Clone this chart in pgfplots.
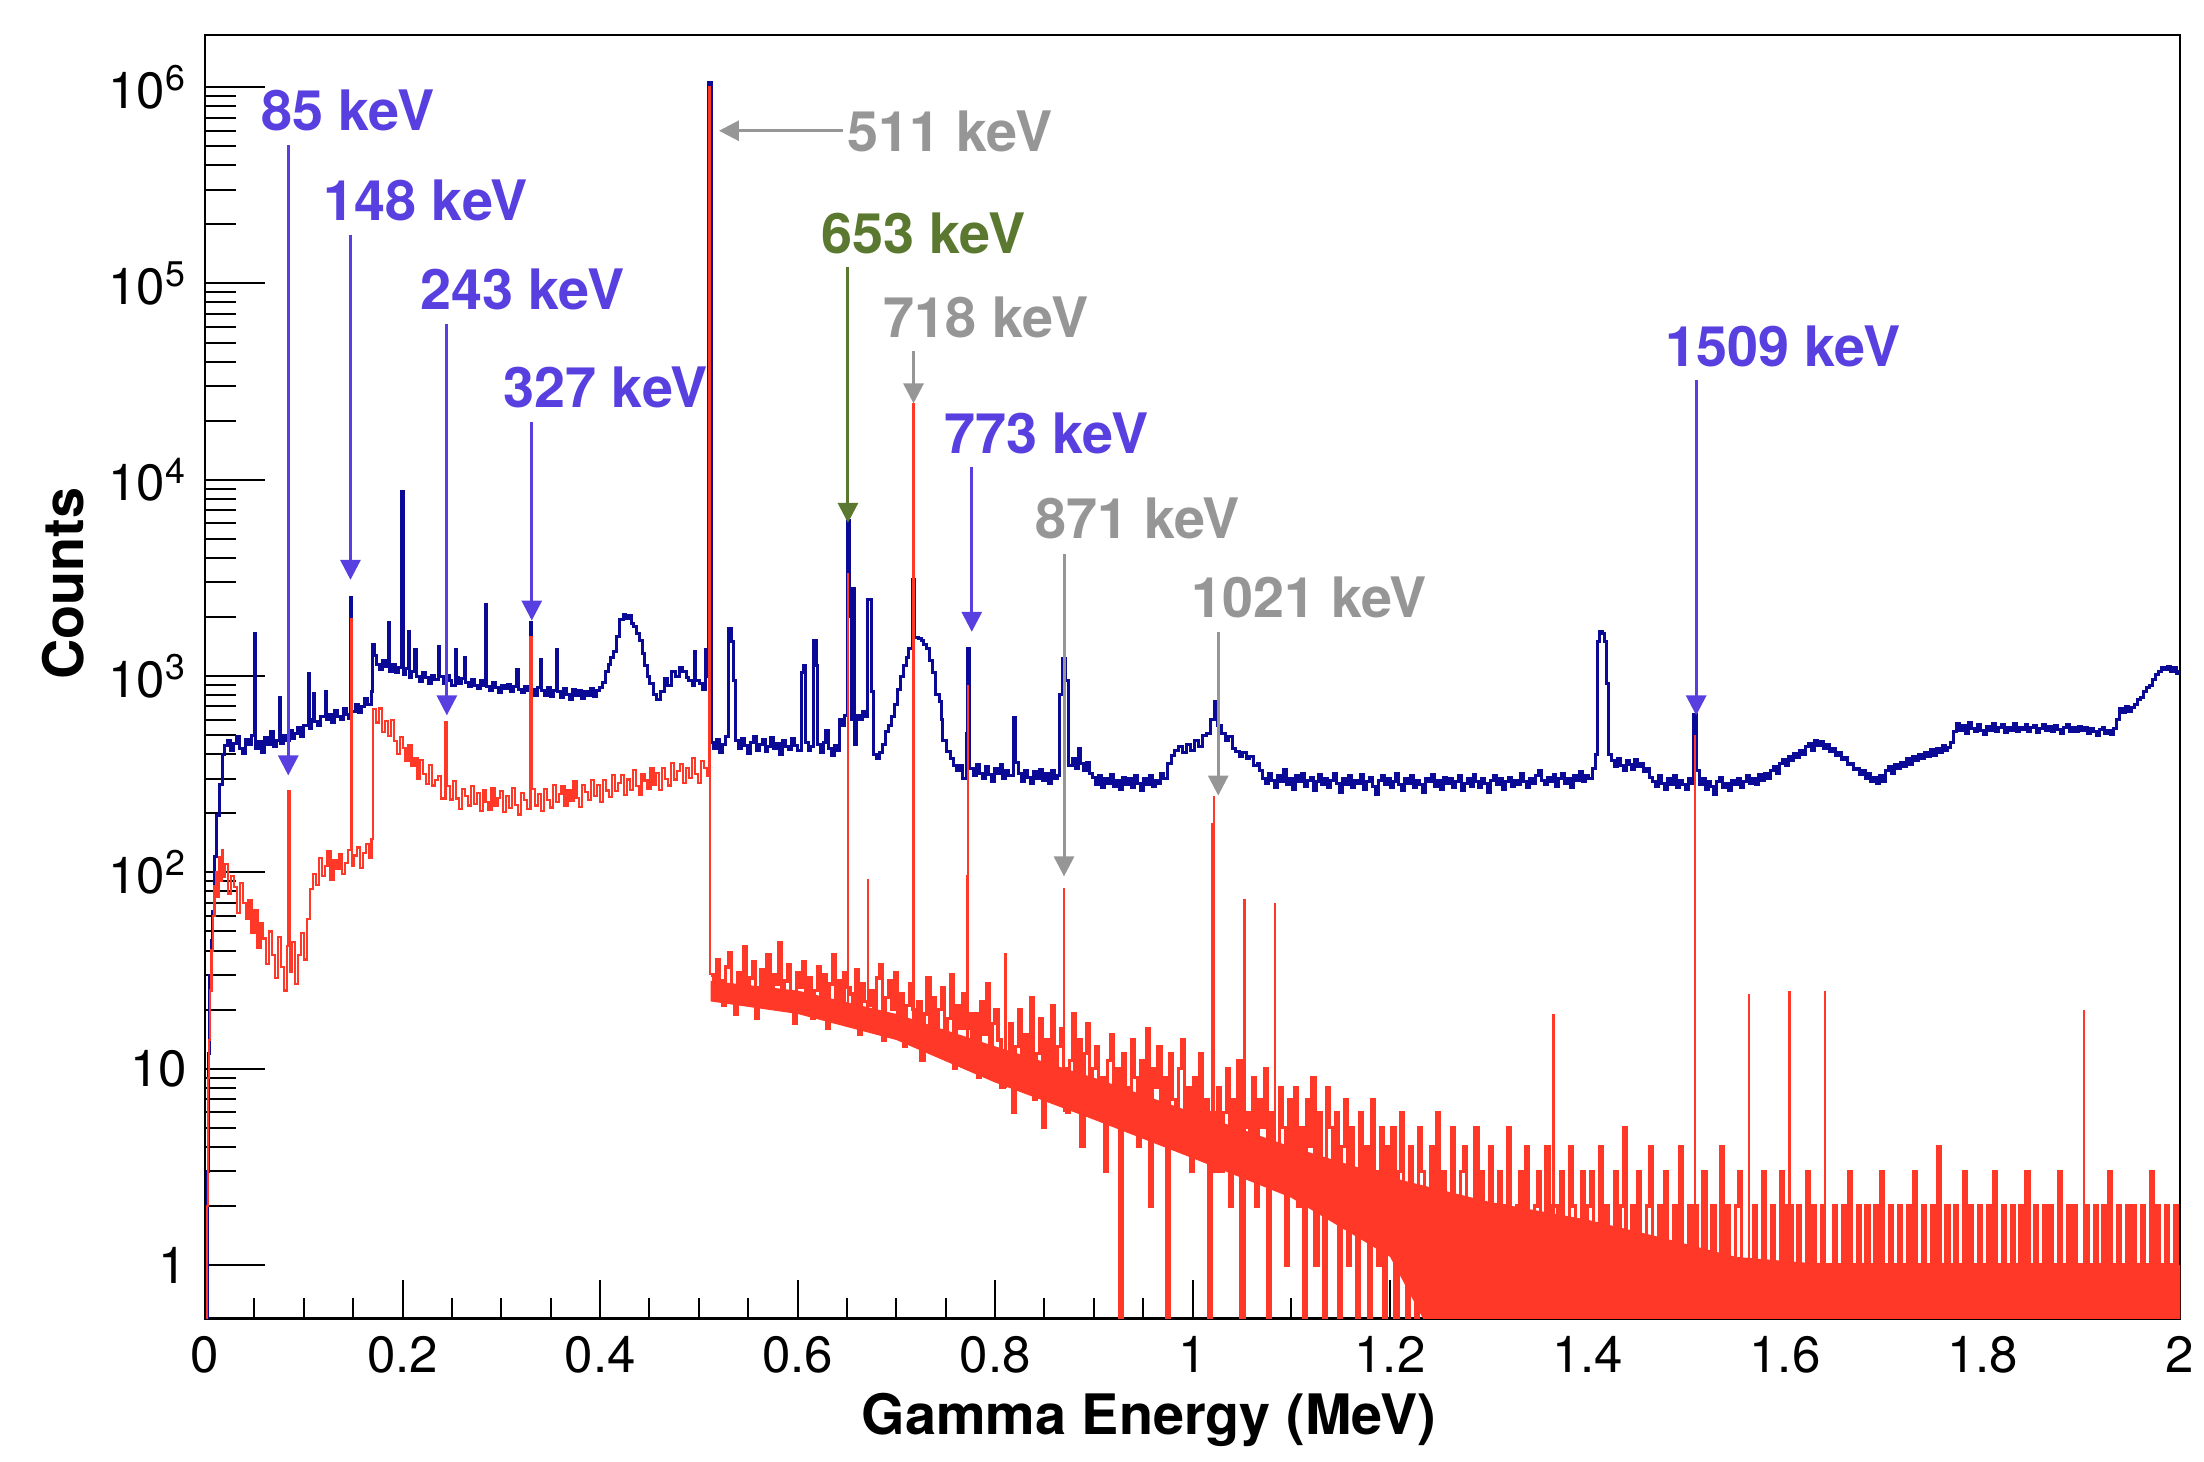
\documentclass[border=0pt]{standalone}
\usepackage{fontspec}
\setmainfont{TeX Gyre Heros}
\usepackage{pgfplots}
\pgfplotsset{compat=1.18}
\usetikzlibrary{arrows.meta}
\definecolor{navyh}{RGB}{10,10,150}
\definecolor{redh}{RGB}{255,56,40}
\definecolor{lblue}{RGB}{88,64,224}
\definecolor{lgray}{RGB}{150,150,150}
\definecolor{lgreen}{RGB}{90,120,48}
\begin{document}
\begin{tikzpicture}
\path[use as bounding box] (-51.3bp,-35.9bp) rectangle (499.9bp,329.7bp);
\begin{axis}[
  scale only axis, width=493.9bp, height=320.9bp,
  at={(0,0)}, anchor=south west,
  ymode=log, xmin=0, xmax=2, ymin=0.535, ymax=1.84e6,
  axis line style={line width=0.6bp},
  tick align=inside, tick pos=left,
  xtick={0,0.2,0.4,0.6,0.8,1,1.2,1.4,1.6,1.8,2},
  xticklabels={0,0.2,0.4,0.6,0.8,1,1.2,1.4,1.6,1.8,2},
  minor x tick num=3,
  ytick={1,10,100,1000,10000,100000,1000000},
  yticklabels={1,10,10\textsuperscript{2},10\textsuperscript{3},10\textsuperscript{4},10\textsuperscript{5},10\textsuperscript{6}},
  xtick style={line width=0.5bp,black,/pgfplots/major tick length=9.6bp,/pgfplots/minor tick length=5.2bp},
  ytick style={line width=0.5bp,black,/pgfplots/major tick length=15bp,/pgfplots/minor tick length=7.6bp},
  tick label style={font=\fontsize{12.8}{14}\selectfont},
  xticklabel style={yshift=-1bp},
  yticklabel style={xshift=-1bp},
  unbounded coords=jump,
]
% ---------------- blue (navy) spectrum ----------------
\addplot[const plot, navyh, line width=0.75bp] coordinates {
(0.000,0.3)(0.002,3)(0.003,12)(0.004,30)(0.006,45)(0.0076,63)(0.0094,120)(0.0119,195)(0.0148,280)(0.0174,400)
(0.020,445)(0.023,470)(0.026,420)(0.029,455)(0.032,490)(0.035,430)(0.038,405)(0.041,475)(0.044,450)(0.047,500)(0.0503,1650)(0.0515,430)(0.054,465)(0.057,410)(0.060,485)(0.063,450)(0.066,520)(0.069,440)(0.072,470)(0.0755,780)(0.0768,455)(0.079,500)(0.082,470)(0.085,530)(0.088,480)(0.091,510)(0.094,545)(0.097,490)(0.100,560)(0.1045,1030)(0.1057,540)(0.1080,600)(0.1100,815)(0.1112,590)(0.114,560)(0.117,620)(0.1215,830)(0.1227,600)(0.125,640)(0.128,580)(0.131,665)(0.134,620)(0.137,600)(0.140,680)(0.143,640)(0.145,610)(0.1475,2500)(0.1487,660)(0.152,720)(0.155,650)(0.158,700)(0.161,770)(0.164,720)(0.1685,830)
(0.170,1450)(0.1712,1280)(0.174,1150)(0.177,1080)(0.180,1200)(0.183,1120)(0.1855,1880)(0.1867,1060)(0.190,1150)(0.193,1040)(0.196,1100)(0.1990,8700)(0.2010,1020)(0.203,1090)(0.2055,1680)(0.2067,980)(0.209,1060)(0.2125,1360)(0.2137,1000)(0.217,940)(0.220,1040)(0.223,980)(0.226,920)(0.229,1010)(0.232,960)(0.2365,1420)(0.2377,990)(0.241,920)(0.244,1010)(0.247,950)(0.250,900)(0.2535,1360)(0.2547,980)(0.257,920)(0.260,970)(0.2625,1250)(0.2637,930)(0.267,880)(0.270,960)(0.273,900)(0.276,860)(0.279,950)(0.281,900)(0.2835,2320)(0.2847,880)(0.288,840)(0.291,930)(0.294,870)(0.297,820)(0.300,900)(0.303,860)(0.306,910)(0.309,830)(0.312,880)(0.3157,1080)(0.3169,850)(0.320,820)(0.323,890)(0.326,840)(0.3295,1870)(0.3307,850)(0.334,800)(0.337,870)(0.3395,1220)(0.3407,840)(0.344,800)(0.347,870)(0.350,790)(0.353,840)(0.3558,1360)(0.3570,830)(0.360,780)(0.363,860)(0.366,810)(0.369,760)(0.372,850)(0.375,800)(0.378,840)(0.381,770)(0.384,830)(0.387,800)(0.390,860)(0.393,790)(0.396,840)(0.399,870)(0.402,930)(0.405,1050)(0.408,1150)(0.411,1250)(0.414,1340)(0.417,1600)(0.420,1950)(0.4234,2070)(0.426,1960)(0.4289,2030)(0.432,1850)(0.4343,1790)(0.437,1650)(0.4397,1510)(0.4425,1300)(0.4451,1130)(0.448,1000)(0.4505,915)(0.454,807)(0.457,760)(0.461,830)(0.465,975)(0.468,900)(0.4722,1060)(0.476,990)(0.480,1100)(0.483,1050)(0.487,980)(0.490,955)(0.4935,900)(0.4957,1340)(0.4969,950)(0.501,915)(0.504,850)(0.5066,1360)(0.5078,1000)(0.5095,1.05e6)
(0.5125,460)(0.515,430)(0.518,475)(0.521,410)(0.524,450)(0.527,490)(0.530,1750)(0.533,1500)(0.5355,955)(0.5375,470)(0.540,430)(0.543,480)(0.546,445)(0.549,405)(0.552,460)(0.555,490)(0.558,420)(0.561,450)(0.564,475)(0.567,415)(0.570,440)(0.573,485)(0.576,430)(0.579,455)(0.582,400)(0.585,470)(0.588,440)(0.591,425)(0.594,480)(0.597,445)(0.600,420)(0.6035,1040)(0.606,1130)(0.6085,460)(0.611,420)(0.6135,440)(0.6163,1515)(0.6187,1130)(0.6205,450)(0.623,410)(0.626,460)(0.6278,530)(0.631,430)(0.634,395)(0.637,445)(0.640,420)(0.642,600)(0.645,560)(0.648,630)(0.6505,6200)(0.6525,2000)(0.6545,600)(0.656,2780)(0.6575,450)(0.660,630)(0.663,600)(0.666,660)(0.668,620)(0.6705,2450)(0.6745,830)(0.6766,400)(0.680,380)(0.683,410)(0.686,450)(0.6895,520)(0.692,560)(0.695,620)(0.698,720)(0.701,850)(0.7045,1000)(0.7073,1130)(0.710,1250)(0.7127,1390)(0.7165,3100)(0.7185,1580)(0.722,1550)(0.7254,1515)(0.728,1450)(0.7308,1390)(0.734,1200)(0.7362,1040)(0.7398,810)(0.7435,740)(0.7455,600)(0.747,468)(0.7507,414)(0.7545,380)(0.758,350)(0.761,330)(0.764,350)(0.767,300)(0.771,510)(0.7725,1390)(0.7745,340)(0.778,310)(0.781,355)(0.784,320)(0.787,300)(0.790,345)(0.793,315)(0.796,290)(0.799,340)(0.802,320)(0.805,355)(0.808,300)(0.811,330)(0.814,310)(0.8185,615)(0.8205,365)(0.824,320)(0.827,290)(0.830,330)(0.833,305)(0.836,285)(0.839,325)(0.842,300)(0.845,335)(0.848,295)(0.851,320)(0.854,285)(0.857,330)(0.860,300)(0.863,310)(0.8655,807)(0.8685,1230)(0.8715,955)(0.8745,350)(0.878,380)(0.881,340)(0.8845,430)(0.887,360)(0.890,330)(0.893,365)(0.896,320)(0.899,305)(0.902,280)(0.905,310)(0.908,270)(0.911,300)(0.914,285)(0.917,315)(0.920,275)(0.923,295)(0.926,265)(0.929,305)(0.932,280)(0.935,300)(0.938,270)(0.941,310)(0.944,285)(0.947,260)(0.950,300)(0.953,280)(0.956,310)(0.959,275)(0.962,295)(0.965,285)(0.968,320)(0.971,300)(0.975,360)(0.9785,396)(0.982,420)(0.986,440)(0.990,410)(0.994,450)(0.998,420)(1.002,470)(1.006,440)(1.010,500)(1.0146,510)(1.0185,600)(1.0219,740)(1.025,560)(1.029,510)(1.033,470)(1.0364,490)(1.040,430)(1.0436,414)(1.048,390)(1.051,410)(1.0544,380)(1.058,390)(1.062,350)(1.0653,360)
(1.068,330)(1.071,300)(1.074,285)(1.077,320)(1.080,295)(1.083,270)(1.086,310)(1.089,290)(1.092,335)(1.095,280)(1.098,300)(1.101,265)(1.104,310)(1.107,290)(1.110,320)(1.113,275)(1.116,295)(1.119,305)(1.122,260)(1.125,290)(1.128,315)(1.131,280)(1.134,300)(1.137,270)(1.140,295)(1.143,320)(1.146,285)(1.149,255)(1.152,300)(1.155,280)(1.158,310)(1.161,270)(1.164,295)(1.167,285)(1.170,315)(1.173,265)(1.176,290)(1.179,305)(1.182,275)(1.185,250)(1.188,295)(1.191,310)(1.194,280)(1.197,300)(1.200,270)(1.203,290)(1.206,320)(1.209,280)(1.212,260)(1.215,300)(1.218,285)(1.221,310)(1.224,270)(1.227,295)(1.230,280)(1.233,255)(1.236,300)(1.239,290)(1.242,315)(1.245,275)(1.248,295)(1.251,265)(1.254,305)(1.257,285)(1.260,300)(1.263,270)(1.266,290)(1.269,310)(1.272,260)(1.275,285)(1.278,300)(1.281,275)(1.284,315)(1.287,290)(1.290,270)(1.293,300)(1.296,285)(1.299,255)(1.302,295)(1.305,310)(1.308,280)(1.311,300)(1.314,265)(1.317,290)(1.320,305)(1.323,275)(1.326,295)(1.329,280)(1.332,320)(1.335,290)(1.338,270)(1.341,300)(1.344,285)(1.347,310)(1.350,330)(1.353,295)(1.356,280)(1.359,305)(1.362,290)(1.365,315)(1.368,275)(1.371,300)(1.374,320)(1.377,285)(1.380,300)(1.383,270)(1.386,310)(1.389,295)(1.392,325)(1.395,290)(1.398,310)(1.401,300)(1.405,340)(1.408,400)(1.410,1500)(1.4125,1686)(1.415,1650)(1.417,1500)(1.419,920)(1.421,400)(1.424,370)
(1.427,345)(1.430,380)(1.433,350)(1.436,330)(1.439,370)(1.442,355)(1.445,335)(1.448,375)(1.451,345)(1.454,360)(1.457,325)(1.460,340)(1.463,305)(1.466,290)(1.469,275)(1.472,310)(1.475,285)(1.478,265)(1.481,300)(1.484,280)(1.487,310)(1.490,270)(1.493,295)(1.496,280)(1.499,265)(1.502,300)(1.505,285)(1.5075,640)(1.5105,330)(1.513,280)(1.516,300)(1.519,265)(1.522,290)(1.525,275)(1.528,250)(1.531,290)(1.534,305)(1.537,270)(1.540,285)(1.543,260)(1.546,295)(1.549,280)(1.552,300)(1.555,270)(1.558,290)(1.561,310)(1.564,285)(1.567,300)(1.570,280)(1.573,315)(1.576,295)(1.579,320)(1.582,300)(1.585,330)(1.588,345)(1.591,320)(1.594,360)(1.597,375)(1.600,350)(1.603,390)(1.606,370)(1.609,405)(1.612,385)(1.615,420)(1.618,400)(1.621,440)(1.624,455)(1.627,420)(1.630,470)(1.633,445)(1.636,465)(1.639,430)(1.642,450)(1.645,415)(1.648,430)(1.651,395)(1.654,410)(1.657,375)(1.660,385)(1.663,355)(1.666,360)(1.669,335)(1.672,340)(1.675,315)(1.678,330)(1.681,300)(1.684,320)(1.687,290)(1.690,305)(1.693,285)(1.696,310)(1.699,290)(1.702,330)(1.705,345)(1.708,320)(1.711,355)(1.714,340)(1.717,365)(1.720,345)(1.723,380)(1.726,355)(1.729,390)(1.732,370)(1.735,400)(1.738,380)(1.741,410)(1.744,390)(1.747,425)(1.750,395)(1.753,430)(1.756,410)(1.759,445)(1.762,420)(1.765,435)(1.768,460)(1.771,520)(1.774,575)(1.777,530)(1.780,560)(1.783,510)(1.786,580)(1.789,540)(1.792,520)(1.795,565)(1.798,530)(1.801,505)(1.804,555)(1.807,530)(1.810,575)(1.813,520)(1.816,545)(1.819,565)(1.822,515)(1.825,550)(1.828,530)(1.831,575)(1.834,525)(1.837,550)(1.840,535)(1.843,570)(1.846,520)(1.849,545)(1.852,560)(1.855,515)(1.858,540)(1.861,570)(1.864,530)(1.867,555)(1.870,520)(1.873,560)(1.876,535)(1.879,510)(1.882,550)(1.885,565)(1.888,525)(1.891,545)(1.894,520)(1.897,555)(1.900,530)(1.903,545)(1.906,510)(1.909,540)(1.912,525)(1.915,500)(1.918,535)(1.921,545)(1.924,510)(1.927,530)(1.930,505)(1.933,540)(1.936,600)(1.939,680)(1.942,650)(1.945,700)(1.948,660)(1.951,690)(1.954,720)(1.957,760)(1.960,780)(1.963,830)(1.966,870)(1.969,900)(1.972,960)(1.975,1020)(1.978,1060)(1.981,1110)(1.984,1080)(1.987,1120)(1.990,1060)(1.993,1100)(1.996,1030)(1.999,1060)(2.000,1050)
};
% ---------------- red spectrum: dense core above 511 keV ----------------
\addplot[fill=redh, draw=none] coordinates {
(0.512,28)(0.60,25)(0.70,19)(0.80,13)(0.90,9)(1.00,6)(1.10,4)(1.20,2.8)(1.30,2.1)(1.40,1.7)(1.47,1.4)(1.55,1.1)(1.65,1.0)(2.00,1.0)
(2.00,0.3)(1.26,0.3)(1.20,1.1)(1.10,2.2)(1.00,3.5)(0.90,5.5)(0.80,8.5)(0.70,14)(0.60,19)(0.512,22)
};
% ---------------- red spectrum below 511 keV ----------------
\addplot[const plot, redh, line width=0.55bp] coordinates {
(0.0000,0.3)(0.0012,0.3)(0.0022,2)(0.0030,9)(0.0040,14)(0.0050,25)(0.0065,40)(0.0080,60)(0.0095,85)(0.0110,100)(0.0125,75)(0.0140,120)(0.0155,90)(0.0170,130)(0.0185,95)
(0.020,110)(0.023,78)(0.026,96)(0.029,84)(0.032,62)(0.035,88)(0.038,70)(0.041,58)(0.044,72)(0.047,49)(0.050,64)(0.053,41)(0.056,55)(0.059,46)(0.062,34)(0.065,50)(0.068,38)(0.071,29)(0.074,47)(0.077,33)(0.080,25)(0.083,42)(0.0845,258)(0.0857,31)(0.088,44)(0.091,27)(0.094,38)(0.097,49)(0.100,36)(0.103,58)(0.106,82)(0.109,98)(0.112,86)(0.115,118)(0.118,96)(0.121,108)(0.124,128)(0.127,92)(0.130,115)(0.133,104)(0.136,124)(0.139,98)(0.142,112)(0.145,130)(0.1475,1950)(0.1487,108)(0.151,122)(0.154,134)(0.157,105)(0.160,126)(0.163,140)(0.166,118)(0.1685,148)
(0.170,680)(0.173,580)(0.176,683)(0.179,519)(0.182,593)(0.185,497)(0.188,597)(0.191,466)(0.194,400)(0.197,490)(0.200,430)(0.203,369)(0.206,447)(0.209,349)(0.212,384)(0.215,301)(0.218,375)(0.221,318)(0.224,283)(0.227,354)(0.230,277)(0.233,296)(0.236,311)(0.239,238)(0.2435,585)(0.2447,275)(0.248,235)(0.251,292)(0.254,238)(0.257,211)(0.260,267)(0.263,244)(0.266,219)(0.269,275)(0.272,223)(0.275,253)(0.278,205)(0.281,263)(0.284,229)(0.287,209)(0.290,269)(0.293,219)(0.296,240)(0.299,260)(0.302,204)(0.305,244)(0.308,213)(0.311,269)(0.314,220)(0.317,197)(0.320,253)(0.323,233)(0.326,210)(0.3295,1580)(0.3307,267)(0.334,219)(0.337,250)(0.340,205)(0.343,265)(0.346,233)(0.349,214)(0.352,278)(0.355,228)(0.358,251)(0.361,276)(0.364,217)(0.367,261)(0.370,230)(0.373,292)(0.376,240)(0.379,216)(0.382,279)(0.385,257)(0.388,233)(0.391,296)(0.394,244)(0.397,279)(0.400,228)(0.403,296)(0.406,261)(0.409,241)(0.412,314)(0.415,259)(0.418,285)(0.421,312)(0.424,247)(0.427,297)(0.430,262)(0.433,333)(0.436,275)(0.439,247)(0.442,318)(0.445,294)(0.448,266)(0.451,340)(0.454,279)(0.457,320)(0.460,262)(0.463,341)(0.466,300)(0.469,277)(0.472,360)(0.475,297)(0.478,328)(0.481,358)(0.484,284)(0.487,341)(0.490,302)(0.493,383)(0.496,316)(0.499,285)(0.502,368)(0.505,340)(0.508,309)(0.5100,1e6)(0.5115,30)
};
% ---------------- red spectrum above 511 keV (dense noise) ----------------
\addplot[const plot, redh, line width=0.8bp] coordinates {
(0.512,30)(0.515,24)(0.518,36)(0.521,28)(0.524,21)(0.527,33)(0.530,39)(0.533,26)(0.536,19)(0.539,31)(0.542,27)(0.545,42)(0.548,23)(0.551,29)(0.554,35)(0.557,18)(0.560,26)(0.563,32)(0.566,25)(0.569,38)(0.572,22)(0.575,30)(0.578,27)(0.581,44)(0.584,20)(0.587,28)(0.590,34)(0.593,24)(0.596,17)(0.599,31)
(0.602,26)(0.605,35)(0.608,21)(0.611,29)(0.614,18)(0.617,25)(0.620,33)(0.623,23)(0.626,30)(0.629,16)(0.632,27)(0.635,38)(0.638,22)(0.641,28)(0.644,19)(0.647,31)(0.650,26)(0.653,24)(0.656,20)(0.659,32)(0.662,15)(0.665,27)(0.668,22)(0.671,21)(0.674,25)(0.677,18)(0.680,29)(0.683,34)(0.686,14)(0.689,23)(0.692,28)(0.695,20)(0.698,31)
(0.701,17)(0.704,24)(0.707,13)(0.710,21)(0.713,27)(0.716,20)(0.719,15)(0.722,22)(0.725,11)(0.728,19)(0.731,29)(0.734,16)(0.737,23)(0.740,12)(0.743,20)(0.746,26)(0.749,14)(0.752,18)(0.755,30)(0.758,10)(0.761,21)(0.764,16)(0.767,24)(0.770,16)(0.773,19)(0.776,13)(0.779,19)(0.782,9)(0.785,22)(0.788,15)(0.791,27)(0.794,11)(0.797,17)(0.800,20)
(0.803,14)(0.806,8)(0.809,12)(0.812,11)(0.815,17)(0.818,6)(0.821,13)(0.824,20)(0.827,9)(0.830,15)(0.833,11)(0.836,23)(0.839,7)(0.842,12)(0.845,18)(0.848,5)(0.851,14)(0.854,10)(0.857,21)(0.860,8)(0.863,13)(0.866,16)(0.869,10)(0.872,6)(0.875,11)(0.878,19)(0.881,9)(0.884,14)(0.887,4)(0.890,12)(0.893,17)(0.896,8)(0.899,10)
(0.902,13)(0.905,6)(0.908,9)(0.911,3)(0.914,11)(0.917,15)(0.920,7)(0.923,10)(0.926,0.2)(0.929,12)(0.932,8)(0.935,5)(0.938,14)(0.941,9)(0.944,4)(0.947,11)(0.950,7)(0.953,16)(0.956,2)(0.959,10)(0.962,8)(0.965,13)(0.968,5)(0.971,9)(0.974,0.2)(0.977,12)(0.980,7)(0.983,4)(0.986,10)(0.989,14)(0.992,6)(0.995,8)(0.998,3)
(1.001,9)(1.004,5)(1.007,12)(1.010,4)(1.013,7)(1.016,0.2)(1.019,6)(1.022,3)(1.025,8)(1.028,3)(1.031,6)(1.034,10)(1.037,2)(1.040,7)(1.043,5)(1.046,11)(1.049,0.2)(1.052,5)(1.055,6)(1.058,4)(1.061,9)(1.064,2)(1.067,7)(1.070,5)(1.073,10)(1.076,0.2)(1.079,6)(1.082,4)(1.085,3)(1.088,8)(1.091,5)(1.094,1)(1.097,7)(1.100,4)
(1.103,8)(1.106,2)(1.109,5)(1.112,0.2)(1.115,7)(1.118,4)(1.121,9)(1.124,1)(1.127,6)(1.130,3)(1.133,0.2)(1.136,8)(1.139,5)(1.142,2)(1.145,6)(1.148,0.2)(1.151,4)(1.154,7)(1.157,1)(1.160,5)(1.163,3)(1.166,0.2)(1.169,6)(1.172,2)(1.175,4)(1.178,0.2)(1.181,7)(1.184,3)(1.187,1)(1.190,5)(1.193,0.2)(1.196,4)(1.199,2)
(1.202,5)(1.205,0.2)(1.208,3)(1.211,6)(1.214,1)(1.217,0.2)(1.220,4)(1.223,2)(1.226,0.2)(1.229,5)(1.232,3)(1.235,1)(1.238,0.2)(1.241,4)(1.244,2)(1.247,6)(1.250,0.2)(1.253,3)(1.256,1)(1.259,0.2)(1.262,5)(1.265,2)(1.268,0.2)(1.271,3)(1.274,4)(1.277,0.2)(1.280,2)(1.283,1)(1.286,5)(1.289,0.2)(1.292,3)(1.295,2)(1.298,0.2)
(1.301,4)(1.304,1)(1.307,0.2)(1.310,3)(1.313,2)(1.316,0.2)(1.319,5)(1.322,1)(1.325,0.2)(1.328,2)(1.331,3)(1.334,0.2)(1.337,4)(1.340,1)(1.343,0.2)(1.346,2)(1.349,3)(1.352,0.2)(1.355,1)(1.358,4)(1.361,0.2)(1.364,2)(1.367,2)(1.370,0.2)(1.373,3)(1.376,1)(1.379,0.2)(1.382,4)(1.385,2)(1.388,0.2)(1.391,1)(1.394,3)(1.397,0.2)(1.400,2)
(1.403,3)(1.406,0.2)(1.409,1)(1.412,4)(1.415,0.2)(1.418,2)(1.421,1)(1.424,0.2)(1.427,3)(1.430,0.2)(1.433,2)(1.436,5)(1.439,0.2)(1.442,1)(1.445,2)(1.448,0.2)(1.451,3)(1.454,1)(1.457,0.2)(1.460,2)(1.463,4)(1.466,0.2)(1.469,1)(1.472,2)(1.475,0.2)(1.478,3)(1.481,1)(1.484,0.2)(1.487,2)(1.490,0.2)(1.493,4)(1.496,1)(1.499,0.2)
(1.502,2)(1.505,0.2)(1.508,2)(1.511,1)(1.514,0.2)(1.517,3)(1.520,1)(1.523,0.2)(1.526,2)(1.529,0.2)(1.532,1)(1.535,4)(1.538,0.2)(1.541,2)(1.544,1)(1.547,0.2)(1.550,2)(1.553,3)(1.556,0.2)(1.559,1)(1.562,1)(1.565,0.2)(1.568,2)(1.571,1)(1.574,0.2)(1.577,3)(1.580,0.2)(1.583,1)(1.586,2)(1.589,0.2)(1.592,1)(1.595,3)(1.598,0.2)
(1.601,2)(1.604,2)(1.607,0.2)(1.610,1)(1.613,2)(1.616,0.2)(1.619,1)(1.622,3)(1.625,0.2)(1.628,2)(1.631,1)(1.634,0.2)(1.637,2)(1.640,1)(1.643,0.2)(1.646,1)(1.649,2)(1.652,0.2)(1.655,1)(1.658,2)(1.661,0.2)(1.664,3)(1.667,1)(1.670,0.2)(1.673,2)(1.676,1)(1.679,0.2)(1.682,2)(1.685,0.2)(1.688,1)(1.691,2)(1.694,0.2)(1.697,3)(1.700,1)
(1.703,0.2)(1.706,2)(1.709,1)(1.712,0.2)(1.715,2)(1.718,0.2)(1.721,1)(1.724,2)(1.727,0.2)(1.730,3)(1.733,1)(1.736,0.2)(1.739,2)(1.742,0.2)(1.745,1)(1.748,2)(1.751,0.2)(1.754,4)(1.757,1)(1.760,0.2)(1.763,2)(1.766,1)(1.769,0.2)(1.772,2)(1.775,0.2)(1.778,1)(1.781,3)(1.784,0.2)(1.787,2)(1.790,1)(1.793,0.2)(1.796,2)(1.799,0.2)(1.802,1)(1.805,2)(1.808,0.2)(1.811,3)(1.814,1)(1.817,0.2)(1.820,2)(1.823,0.2)(1.826,1)(1.829,2)(1.832,0.2)(1.835,1)(1.838,2)(1.841,0.2)(1.844,3)(1.847,1)(1.850,0.2)(1.853,2)(1.856,0.2)(1.859,1)(1.862,2)(1.865,0.2)(1.868,2)(1.871,1)(1.874,0.2)(1.877,3)(1.880,0.2)(1.883,1)(1.886,2)(1.889,0.2)(1.892,2)(1.895,1)(1.898,0.2)(1.901,1)(1.904,2)(1.907,0.2)(1.910,1)(1.913,2)(1.916,0.2)(1.919,1)(1.922,2)(1.925,0.2)(1.928,3)(1.931,1)(1.934,0.2)(1.937,2)(1.940,0.2)(1.943,1)(1.946,2)(1.949,0.2)(1.952,2)(1.955,1)(1.958,0.2)(1.961,2)(1.964,0.2)(1.967,1)(1.970,3)(1.973,0.2)(1.976,2)(1.979,1)(1.982,0.2)(1.985,2)(1.988,0.2)(1.991,1)(1.994,2)(1.997,0.2)(2.000,1)
};
% ---------------- red peaks above 511 keV (thin lines rising from the band) ----------------
\addplot[sharp plot, redh, line width=0.6bp] coordinates {
(0.6512,18)(0.6512,3370)(0.6512,nan)
(0.6711,16)(0.6711,93)(0.6711,nan)
(0.7172,14)(0.7172,24500)(0.7172,nan)
(0.7717,11)(0.7717,97)(0.7717,nan)
(0.7727,11)(0.7727,900)(0.7727,nan)
(0.8105,8)(0.8105,39)(0.8105,nan)
(0.8696,6)(0.8696,83)(0.8696,nan)
(1.0203,3)(1.0203,178)(1.0203,nan)
(1.0215,3)(1.0215,244)(1.0215,nan)
(1.0525,3)(1.0525,73)(1.0525,nan)
(1.0835,2.5)(1.0835,70)(1.0835,nan)
(1.3655,1.5)(1.3655,19)(1.3655,nan)
(1.5090,1)(1.5090,500)(1.5090,nan)
(1.5635,1)(1.5635,24)(1.5635,nan)
(1.6045,1)(1.6045,25)(1.6045,nan)
(1.6405,1)(1.6405,25)(1.6405,nan)
(1.9025,1)(1.9025,20)
};
% ---------------- annotations ----------------
\begin{scope}[font=\bfseries\fontsize{14}{16}\selectfont]
\node[lblue,anchor=base] at (rel axis cs:0.0723,0.9255) {85 keV};
\node[lblue,anchor=base] at (rel axis cs:0.1117,0.8554) {148 keV};
\node[lblue,anchor=base] at (rel axis cs:0.1606,0.7864) {243 keV};
\node[lblue,anchor=base] at (rel axis cs:0.2028,0.7097) {327 keV};
\node[lgray,anchor=base] at (rel axis cs:0.3772,0.9096) {511 keV};
\node[lgreen,anchor=base] at (rel axis cs:0.3637,0.8297) {653 keV};
\node[lgray,anchor=base] at (rel axis cs:0.3954,0.7640) {718 keV};
\node[lblue,anchor=base] at (rel axis cs:0.4260,0.6741) {773 keV};
\node[lgray,anchor=base] at (rel axis cs:0.4723,0.6079) {871 keV};
\node[lgray,anchor=base] at (rel axis cs:0.5591,0.5460) {1021 keV};
\node[lblue,anchor=base] at (rel axis cs:0.7989,0.7421) {1509 keV};
\end{scope}
\begin{scope}[line width=0.75bp,-{Triangle[width=5bp,length=5bp]}]
\draw[lblue] (rel axis cs:0.0421,0.9146) -- (rel axis cs:0.0421,0.4231);
\draw[lblue] (rel axis cs:0.0736,0.8445) -- (rel axis cs:0.0736,0.5755);
\draw[lblue] (rel axis cs:0.1224,0.7750) -- (rel axis cs:0.1224,0.4699);
\draw[lblue] (rel axis cs:0.1654,0.6988) -- (rel axis cs:0.1654,0.5438);
\draw[lgray] (rel axis cs:0.3231,0.9255) -- (rel axis cs:0.2602,0.9255);
\draw[lgreen] (rel axis cs:0.3255,0.8193) -- (rel axis cs:0.3255,0.6199);
\draw[lgray] (rel axis cs:0.3587,0.7536) -- (rel axis cs:0.3587,0.7130);
\draw[lblue] (rel axis cs:0.3882,0.6637) -- (rel axis cs:0.3882,0.5350);
\draw[lgray] (rel axis cs:0.4349,0.5958) -- (rel axis cs:0.4349,0.3444);
\draw[lgray] (rel axis cs:0.5130,0.5350) -- (rel axis cs:0.5130,0.4074);
\draw[lblue] (rel axis cs:0.7550,0.7316) -- (rel axis cs:0.7550,0.4699);
\end{scope}
\end{axis}
\node[font=\bfseries\fontsize{14}{16}\selectfont,anchor=base] at (236.0bp,-29.0bp) {Gamma Energy (MeV)};
\node[font=\bfseries\fontsize{14}{16}\selectfont,anchor=base,rotate=90] at (-30.5bp,183.7bp) {Counts};
\end{tikzpicture}
\end{document}
